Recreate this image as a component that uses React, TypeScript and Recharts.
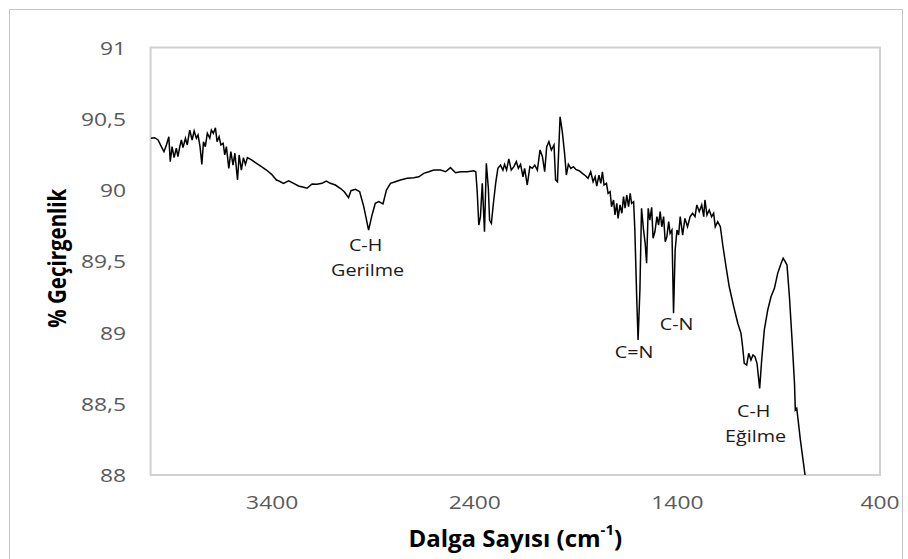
import React from 'react';
import { LineChart, Line, XAxis, YAxis, ReferenceArea, ReferenceDot } from 'recharts';

// ---- data ----
const wavenumbers = [
  4000, 3980, 3963, 3947, 3934, 3922, 3910, 3903, 3894, 3884, 3873, 3865, 3856, 3848, 3840, 3828, 3819, 3807, 3795, 3785,
  3774, 3766, 3756, 3747, 3739, 3730, 3720, 3708, 3700, 3690, 3680, 3672, 3662, 3653, 3642, 3634, 3626, 3614, 3604, 3593,
  3584, 3571, 3563, 3552, 3542, 3532, 3522, 3502, 3477, 3453, 3428, 3403, 3379,
  3369, 3344, 3319, 3294, 3270, 3245, 3228, 3203, 3179, 3154, 3133, 3113, 3088, 3064, 3044, 3023, 3011, 2989, 2968, 2948,
  2924, 2907, 2891, 2874, 2853, 2836, 2816, 2792, 2767, 2734, 2701, 2676, 2652, 2627,
  2602, 2569, 2544, 2520, 2495, 2470, 2437, 2405, 2395, 2388, 2380, 2372, 2363, 2358, 2352, 2343, 2333, 2327, 2318, 2309,
  2297, 2286, 2273, 2261, 2253, 2243, 2232, 2220, 2207, 2195, 2185, 2174, 2162, 2154, 2141, 2128, 2116, 2104, 2091, 2078,
  2066, 2055, 2045, 2034, 2022, 2009, 2001, 1992, 1979, 1968, 1956, 1948, 1938, 1926,
  1913, 1902, 1885, 1869, 1852, 1841, 1828, 1816, 1806, 1798, 1787, 1778, 1770, 1762, 1750, 1742, 1732, 1725, 1715, 1708,
  1699, 1693, 1683, 1674, 1666, 1658, 1650, 1641, 1633, 1626, 1616, 1610, 1600, 1594, 1585, 1577, 1567, 1559, 1552, 1544,
  1536, 1527, 1520, 1511, 1501, 1493, 1485, 1477, 1468, 1460, 1452, 1443, 1436, 1427, 1419, 1411, 1402, 1394, 1386, 1374,
  1363, 1350, 1337,
  1325, 1313, 1304, 1292, 1280, 1270, 1264, 1254, 1243, 1231, 1221, 1213, 1201, 1188, 1176, 1160, 1144, 1122, 1102, 1086,
  1078, 1070, 1058, 1048, 1037, 1027, 1017, 1007, 994, 984, 971, 954, 938, 921, 905, 888, 878, 868, 859, 847,
  834, 822, 818, 811, 806, 793, 770,
];

const transmittance = [
  90.363, 90.367, 90.351, 90.304, 90.269, 90.316, 90.374, 90.199, 90.304, 90.227, 90.293, 90.234, 90.304, 90.351, 90.297, 90.363, 90.316, 90.421, 90.351, 90.414,
  90.363, 90.386, 90.304, 90.18, 90.339, 90.304, 90.398, 90.363, 90.421, 90.398, 90.437, 90.339, 90.374, 90.316, 90.328, 90.246, 90.304, 90.152, 90.269, 90.175,
  90.258, 90.07, 90.246, 90.14, 90.227, 90.18, 90.227, 90.211, 90.187, 90.164, 90.14, 90.11, 90.07,
  90.065, 90.047, 90.065, 90.047, 90.028, 90.019, 90.012, 90.042, 90.04, 90.047, 90.063, 90.047, 90.035, 90.012, 89.988, 89.946, 89.995, 90.005, 89.988, 89.883,
  89.719, 89.825, 89.907, 89.918, 89.902, 90.0, 90.047, 90.058, 90.07, 90.082, 90.086, 90.093, 90.117, 90.128,
  90.14, 90.14, 90.128, 90.157, 90.121, 90.128, 90.128, 90.135, 90.128, 89.988, 89.754, 89.813, 90.047, 89.895, 89.707, 90.187, 90.012, 89.789, 89.766, 89.895,
  90.047, 90.152, 90.175, 90.14, 90.18, 90.14, 90.218, 90.14, 90.164, 90.199, 90.152, 90.18, 90.093, 90.152, 90.035, 90.164, 90.152, 90.175, 90.14, 90.281,
  90.234, 90.128, 90.304, 90.339, 90.281, 90.316, 90.07, 90.058, 90.514, 90.409, 90.246, 90.105, 90.18, 90.152,
  90.164, 90.145, 90.135, 90.117, 90.098, 90.082, 90.128, 90.058, 90.093, 90.028, 90.105, 90.047, 90.128, 90.035, 90.047, 89.977, 89.988, 89.883, 89.93, 89.825,
  89.907, 89.801, 89.895, 89.837, 89.953, 89.872, 89.965, 89.883, 89.977, 89.907, 89.918, 89.719, 89.205, 88.947, 89.298, 89.872, 89.719, 89.626, 89.486, 89.872,
  89.789, 89.879, 89.661, 89.707, 89.813, 89.754, 89.848, 89.742, 89.813, 89.637, 89.672, 89.778, 89.696, 89.719, 89.135, 89.579, 89.719, 89.684, 89.813, 89.684,
  89.801, 89.742, 89.813,
  89.837, 89.813, 89.895, 89.848, 89.895, 89.813, 89.93, 89.825, 89.86, 89.813, 89.837, 89.742, 89.778, 89.742, 89.614, 89.462, 89.321, 89.181, 89.065, 88.994,
  88.9, 88.784, 88.772, 88.854, 88.807, 88.842, 88.83, 88.784, 88.608, 88.807, 89.018, 89.158, 89.251, 89.31, 89.415, 89.486, 89.521, 89.497, 89.474, 89.251,
  88.947, 88.644, 88.456, 88.468, 88.409, 88.246, 88.0,
];

const xTicks = [3400, 2400, 1400, 400];
const yTicks = [88, 88.5, 89, 89.5, 90, 90.5, 91];
const yTickLabels = ['88', '88,5', '89', '89,5', '90', '90,5', '91'];

const xTitle = 'Dalga Sayısı (cm';
const xTitleSup = '-1';
const yTitle = '% Geçirgenlik';

const annotationText = [['C-H', 'Gerilme'], ['C=N'], ['C-N'], ['C-H', 'Eğilme']];
const annotationWavenumber = [2924, 1594, 1419, 994];
const annotationValue = [89.719, 88.947, 89.135, 88.608];

const data = wavenumbers.map((w, i) => ({ wn: w, t: transmittance[i] }));

// ---- styling / layout ----
const FONT = "'Open Sans', 'Noto Sans', sans-serif";
const SX = 1.2;
const PLOT_LEFT = 150.6;
const PLOT_TOP = 47.5;
const PLOT_BOTTOM = 475;
const PLOT_RIGHT = 880;
const annotationOffsets = [
  [[-3, 15], [-1, 40]],
  [[-4, 12]],
  [[3, 10]],
  [[-6, 22], [-4, 47]],
];

const YTick = (props: any) => {
  const { y, payload } = props;
  const i = yTicks.indexOf(payload.value);
  return (
    <g transform={`translate(${PLOT_LEFT - 24.6},${y}) scale(${SX},1)`}>
      <text x={0} y={0} textAnchor="end" dominantBaseline="central" fill="#595959" fontSize={19} fontFamily={FONT}>
        {yTickLabels[i]}
      </text>
    </g>
  );
};

const XTick = (props: any) => {
  const { x, payload } = props;
  return (
    <g transform={`translate(${x},${PLOT_BOTTOM + 27}) scale(${SX},1)`}>
      <text x={0} y={0} textAnchor="middle" dominantBaseline="central" fill="#595959" fontSize={19} fontFamily={FONT}>
        {String(payload.value)}
      </text>
    </g>
  );
};

const XTitle = () => {
  const cx = (PLOT_LEFT + PLOT_RIGHT) / 2;
  const cy = PLOT_BOTTOM + 62;
  return (
    <text x={cx} y={cy} textAnchor="middle" dominantBaseline="central" fill="#000" fontSize={24} fontWeight="bold" fontFamily={FONT}>
      <tspan>{xTitle}</tspan>
      <tspan dy={-8} fontSize={15}>{xTitleSup}</tspan>
      <tspan dy={8}>)</tspan>
    </text>
  );
};

const YTitle = () => {
  const tx = 57;
  const ty = (PLOT_TOP + PLOT_BOTTOM) / 2 - 3;
  return (
    <text x={0} y={0} transform={`translate(${tx},${ty}) scale(1.2,1) rotate(-90)`} textAnchor="middle" dominantBaseline="central" fill="#000" fontSize={20.5} fontWeight="bold" fontFamily={FONT}>
      {yTitle}
    </text>
  );
};

const makeAnnotation = (i: number) => (p: any) => {
  const vb = p.viewBox || { x: 0, y: 0 };
  return (
    <g>
      {annotationText[i].map((s, j) => (
        <g key={j} transform={`translate(${vb.x + annotationOffsets[i][j][0]},${vb.y + annotationOffsets[i][j][1]}) scale(${SX},1)`}>
          <text x={0} y={0} textAnchor="middle" dominantBaseline="central" fill="#1a1a1a" fontSize={16.5} fontFamily={FONT}>
            {s}
          </text>
        </g>
      ))}
    </g>
  );
};

export default function App() {
  return (
    <div style={{ position: 'absolute', left: 0, top: 0, width: 908, height: 559, background: '#fff', overflow: 'hidden' }}>
      <div style={{ position: 'absolute', left: 9, top: 9, width: 892, height: 600, border: '1.5px solid #c6c6c6' }} />
      <div style={{ position: 'absolute', left: 0, top: 0 }}>
        <LineChart width={908} height={559} data={data} margin={{ top: PLOT_TOP, right: 908 - PLOT_RIGHT, bottom: 0, left: 0 }}>
          <XAxis
            dataKey="wn"
            type="number"
            domain={[400, 4000]}
            reversed
            ticks={xTicks}
            interval={0}
            axisLine={false}
            tickLine={false}
            height={559 - PLOT_BOTTOM}
            tick={<XTick />}
            allowDataOverflow
            label={{ content: XTitle }}
          />
          <YAxis
            type="number"
            domain={[88, 91]}
            ticks={yTicks}
            interval={0}
            axisLine={false}
            tickLine={false}
            width={PLOT_LEFT}
            tick={<YTick />}
            allowDataOverflow
            label={{ content: YTitle }}
          />
          <ReferenceArea x1={400} x2={4000} y1={88} y2={91} fill="none" fillOpacity={0} stroke="#d0d0d0" strokeWidth={2} />
          <Line dataKey="t" type="linear" stroke="#000" strokeWidth={1.5} dot={false} activeDot={false} isAnimationActive={false} />
          {annotationText.map((_, i) => (
            <ReferenceDot
              key={i}
              x={annotationWavenumber[i]}
              y={annotationValue[i]}
              r={0}
              fill="none"
              stroke="none"
              label={{ content: makeAnnotation(i) }}
            />
          ))}
        </LineChart>
      </div>
    </div>
  );
}
